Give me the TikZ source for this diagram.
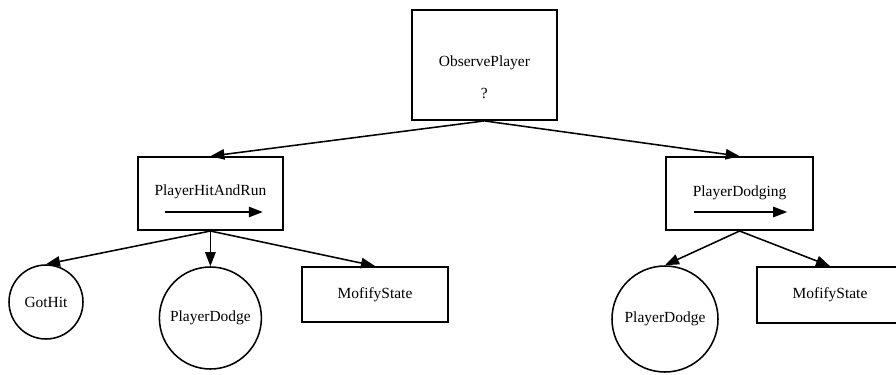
\documentclass[tikz,border=0pt]{standalone}
\usepackage{fontspec}
\setmainfont{Liberation Serif}
\usetikzlibrary{arrows.meta}

\begin{document}
\begin{tikzpicture}[
        font=\fontsize{11}{13}\selectfont,
        box/.style={draw, line width=1.3pt, rectangle, inner sep=0pt},
        leaf/.style={draw, line width=1.1pt, circle, inner sep=0pt},
        link/.style={-{Triangle[length=0.35cm, width=0.26cm]}, line width=1.1pt},
    ]
        \useasboundingbox (0,0) rectangle (22.4,9.35);

        \node[box, minimum width=3.625cm, minimum height=2.75cm] (observe) at (12.11,7.725) {};
        \node (observetext) at (12.11,7.775) {ObservePlayer};
        \node (observemark) at (12.11,7.025) {?};

        \node[box, minimum width=3.625cm, minimum height=1.825cm] (hitrun) at (5.26,4.51) {};
        \node (hitruntext) at (5.26,4.55) {PlayerHitAndRun};
        \draw[link] ([xshift=-1.14cm, yshift=-0.46cm]hitrun.center) -- ([xshift=1.31cm, yshift=-0.46cm]hitrun.center);

        \node[box, minimum width=3.675cm, minimum height=1.825cm] (dodging) at (18.49,4.51) {};
        \node (dodgingtext) at (18.49,4.53) {PlayerDodging};
        \draw[link] ([xshift=-1.14cm, yshift=-0.46cm]dodging.center) -- ([xshift=1.19cm, yshift=-0.46cm]dodging.center);

        \node[leaf, minimum size=1.85cm] (gothit) at (1.15,1.8) {GotHit};
        \node[leaf, minimum size=2.55cm] (dodgeleft) at (5.26,1.4) {PlayerDodge};
        \node[box, minimum width=3.65cm, minimum height=1.375cm] (stateleft) at (9.375,1.99) {MofifyState};

        \node[leaf, minimum size=2.65cm] (dodgeright) at (16.625,1.375) {PlayerDodge};
        \node[box, minimum width=3.65cm, minimum height=1.4cm] (stateright) at (20.75,1.975) {MofifyState};

        \draw[link] (observe.south) -- (hitrun.north);
        \draw[link] (observe.south) -- (dodging.north);

        \draw[link] (hitrun.south) -- (gothit.north);
        \draw[link] (hitrun.south) -- (dodgeleft.north);
        \draw[link] (hitrun.south) -- (stateleft.north);

        \draw[link] (dodging.south) -- (dodgeright.north);
        \draw[link] (dodging.south) -- (stateright.north);
    \end{tikzpicture}
\end{document}
